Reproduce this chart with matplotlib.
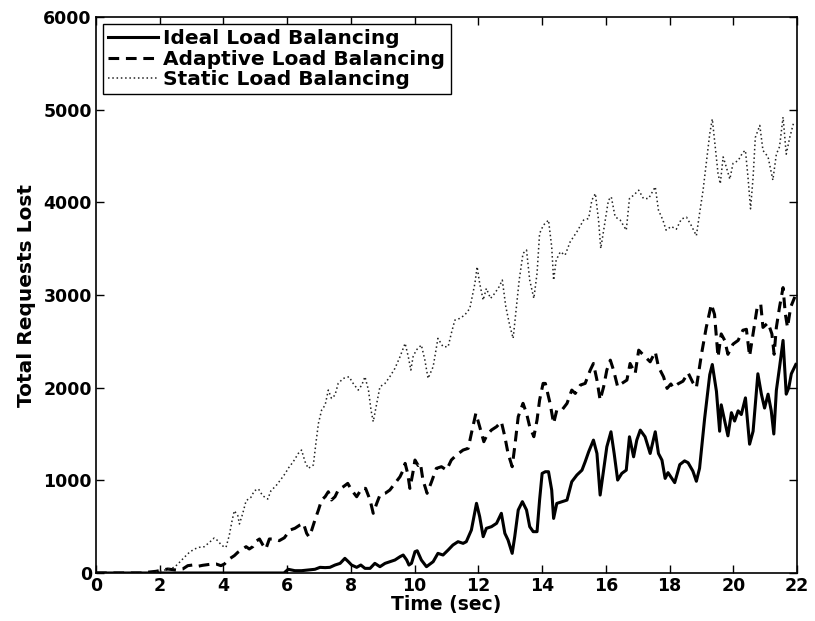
import matplotlib
matplotlib.use("Agg")
import matplotlib.pyplot as plt

# Ideal load balancing (solid)
ideal_t = [0, 5.9, 6.03, 6.24, 6.45, 6.66, 6.87, 7.03, 7.19, 7.34, 7.5, 7.66, 7.81, 7.92, 8.02,
           8.18, 8.31, 8.44, 8.6, 8.75, 8.91, 9.07, 9.22, 9.38, 9.54, 9.64, 9.75, 9.82, 9.9, 10.01,
           10.08, 10.21, 10.37, 10.58, 10.73, 10.89, 11.05, 11.2, 11.36, 11.52, 11.62, 11.78, 11.94,
           12.04, 12.15, 12.25, 12.41, 12.57, 12.72, 12.83, 12.93, 13.06, 13.14, 13.25, 13.38, 13.51,
           13.61, 13.72, 13.84, 13.92, 14.0, 14.1, 14.2, 14.3, 14.36, 14.46, 14.62, 14.78, 14.93,
           15.09, 15.25, 15.35, 15.46, 15.61, 15.72, 15.82, 15.93, 16.03, 16.16, 16.26, 16.37, 16.5,
           16.64, 16.74, 16.87, 16.97, 17.08, 17.23, 17.39, 17.55, 17.65, 17.76, 17.86, 17.95, 18.16,
           18.32, 18.47, 18.58, 18.73, 18.84, 18.94, 19.1, 19.26, 19.34, 19.47, 19.57, 19.62, 19.73,
           19.83, 19.94, 20.04, 20.15, 20.25, 20.38, 20.51, 20.62, 20.77, 20.88, 20.98, 21.09, 21.19,
           21.27, 21.35, 21.45, 21.56, 21.66, 21.74, 21.82, 21.96]
ideal_v = [0, 0, 40, 25, 25, 32, 40, 61, 58, 61, 86, 104, 158, 122, 86,
           61, 86, 50, 50, 104, 68, 104, 122, 140, 176, 194, 140, 86, 104, 230,
           240, 140, 68, 122, 212, 194, 248, 302, 338, 320, 338, 464, 752,
           608, 392, 482, 500, 536, 644, 428, 356, 212, 392, 680, 770, 680,
           500, 446, 446, 788, 1075, 1093, 1093, 895, 589, 751, 769, 787, 985,
           1057, 1110, 1200, 1308, 1434, 1290, 841, 1110, 1362, 1524, 1290, 1003, 1075,
           1110, 1470, 1254, 1434, 1542, 1470, 1290, 1524, 1290, 1218, 1021, 1083, 975,
           1170, 1210, 1190, 1100, 990, 1130, 1670, 2140, 2250, 1960, 1530, 1815, 1640,
           1480, 1730, 1640, 1750, 1710, 1890, 1390, 1530, 2150, 1930, 1780, 1930, 1750,
           1500, 1970, 2220, 2510, 1930, 2000, 2150, 2250]

# Adaptive load balancing (dashed)
adaptive_t = [0, 1.5, 1.57, 1.88, 2.09, 2.25, 2.51, 2.72, 2.88, 3.03, 3.19, 3.35, 3.56, 3.77, 3.92,
              4.03, 4.18, 4.34, 4.45, 4.6, 4.71, 4.81, 4.92, 5.02, 5.13, 5.23, 5.33, 5.44, 5.6, 5.75,
              5.91, 6.09, 6.24, 6.4, 6.51, 6.61, 6.68, 6.77, 6.87, 6.98, 7.08, 7.19, 7.29, 7.39, 7.5,
              7.6, 7.76, 7.9, 8.02, 8.18, 8.34, 8.46, 8.6, 8.7, 8.81, 8.91, 9.07, 9.22, 9.38, 9.54,
              9.64, 9.7, 9.78, 9.85, 9.94, 10.01, 10.11, 10.18, 10.26, 10.39, 10.53, 10.68, 10.84,
              11.0, 11.15, 11.31, 11.52, 11.68, 11.78, 11.92, 12.04, 12.17, 12.27, 12.41, 12.57,
              12.72, 12.83, 12.93, 13.06, 13.14, 13.25, 13.4, 13.51, 13.61, 13.74, 13.84, 13.92,
              14.03, 14.1, 14.25, 14.36, 14.46, 14.62, 14.78, 14.93, 15.04, 15.2, 15.35, 15.51,
              15.61, 15.72, 15.82, 15.93, 16.03, 16.14, 16.24, 16.37, 16.5, 16.66, 16.76, 16.92,
              17.03, 17.18, 17.39, 17.55, 17.65, 17.81, 17.92, 18.04, 18.11, 18.26, 18.42, 18.58,
              18.73, 18.84, 19.0, 19.15, 19.31, 19.41, 19.52, 19.62, 19.73, 19.83, 19.99, 20.15,
              20.3, 20.41, 20.51, 20.62, 20.75, 20.86, 20.93, 21.09, 21.21, 21.28, 21.35, 21.45,
              21.56, 21.63, 21.7, 21.8, 21.93]
adaptive_v = [0, 0, 7, 18, 32, 43, 32, 43, 79, 86, 72, 83, 93, 97, 79,
              97, 151, 187, 223, 259, 284, 259, 284, 342, 367, 306, 259, 367, 367, 349,
              380, 464, 482, 518, 536, 428, 392, 464, 572, 680, 788, 823, 877, 788, 823,
              895, 931, 967, 895, 823, 913, 913, 788, 644, 752, 841, 859, 895, 967, 1039,
              1111, 1183, 1075, 913, 1075, 1219, 1160, 1183, 1003, 860, 985, 1129, 1147,
              1111, 1219, 1273, 1327, 1345, 1507, 1723, 1579, 1417, 1489, 1543, 1579,
              1633, 1471, 1291, 1147, 1363, 1687, 1831, 1723, 1579, 1471, 1651, 1866,
              2046, 2046, 1830, 1614, 1758, 1758, 1830, 1974, 1938, 2028, 2046, 2190,
              2261, 2082, 1866, 2010, 2190, 2297, 2190, 2010, 2046, 2082, 2261, 2153,
              2405, 2351, 2279, 2387, 2225, 2117, 1992, 2040, 2000, 2040, 2070, 2160,
              2055, 2000, 2360, 2650, 2900, 2790, 2330, 2580, 2510, 2360, 2470, 2510,
              2620, 2630, 2340, 2580, 2870, 2900, 2650, 2700, 2580, 2360, 2650, 2870,
              3080, 2800, 2650, 2870, 2980]

# Static load balancing (dotted)
static_t = [0, 1.8, 2.09, 2.25, 2.46, 2.62, 2.77, 2.93, 3.09, 3.24, 3.4, 3.56, 3.71, 3.82, 3.95,
            4.08, 4.18, 4.27, 4.34, 4.45, 4.5, 4.6, 4.71, 4.86, 4.97, 5.1, 5.23, 5.39, 5.49, 5.65,
            5.81, 5.95, 6.03, 6.19, 6.35, 6.45, 6.56, 6.66, 6.82, 6.9, 6.98, 7.08, 7.19, 7.29, 7.39,
            7.5, 7.6, 7.76, 7.94, 8.07, 8.23, 8.34, 8.44, 8.55, 8.63, 8.7, 8.81, 8.91, 9.07, 9.22,
            9.38, 9.54, 9.7, 9.8, 9.88, 9.95, 10.05, 10.21, 10.32, 10.42, 10.58, 10.73, 10.89,
            11.05, 11.15, 11.26, 11.41, 11.57, 11.73, 11.89, 11.96, 12.04, 12.15, 12.25, 12.38,
            12.51, 12.65, 12.75, 12.86, 12.98, 13.09, 13.17, 13.28, 13.4, 13.51, 13.61, 13.74,
            13.84, 13.92, 14.04, 14.2, 14.3, 14.36, 14.44, 14.57, 14.72, 14.88, 15.09, 15.3,
            15.46, 15.56, 15.67, 15.77, 15.84, 15.98, 16.08, 16.17, 16.29, 16.45, 16.64, 16.74,
            16.87, 17.03, 17.18, 17.34, 17.55, 17.65, 17.79, 17.89, 18.05, 18.21, 18.37, 18.53,
            18.68, 18.84, 18.94, 19.05, 19.15, 19.26, 19.34, 19.41, 19.52, 19.59, 19.68, 19.78,
            19.89, 19.99, 20.15, 20.3, 20.38, 20.46, 20.54, 20.62, 20.69, 20.83, 20.93, 21.09,
            21.24, 21.35, 21.45, 21.56, 21.66, 21.77, 21.9]
static_v = [0, 0, 25, 43, 61, 115, 169, 223, 259, 277, 284, 331, 378, 349, 295,
            277, 403, 565, 672, 619, 529, 637, 780, 816, 888, 906, 834, 798, 888, 942,
            1014, 1080, 1129, 1201, 1291, 1327, 1201, 1129, 1165, 1399, 1615, 1758, 1812, 1974, 1884,
            1920, 2046, 2100, 2118, 2046, 1974, 2028, 2118, 1974, 1758, 1633, 1830, 2010, 2046, 2118,
            2208, 2334, 2478, 2334, 2190, 2334, 2406, 2460, 2298, 2100, 2226, 2532, 2442,
            2442, 2586, 2729, 2747, 2783, 2855, 3125, 3305, 3125, 2945, 3071, 2963,
            3017, 3089, 3161, 2873, 2676, 2532, 2801, 3161, 3449, 3485, 3161, 2963,
            3233, 3664, 3754, 3808, 3520, 3160, 3376, 3466, 3430, 3574, 3682, 3808,
            3826, 4023, 4095, 3808, 3502, 3808, 4023, 4059, 3844, 3808, 3700, 4041,
            4077, 4131, 4041, 4041, 4167, 3916, 3808, 3700, 3740, 3710, 3820, 3840,
            3750, 3640, 3880, 4130, 4420, 4740, 4900, 4670, 4310, 4200, 4490, 4380,
            4250, 4420, 4450, 4540, 4560, 4270, 3930, 4270, 4700, 4830, 4560, 4490,
            4240, 4520, 4600, 4920, 4520, 4700, 4870]

x_ticks = list(range(0, 23, 2))
y_ticks = list(range(0, 6001, 1000))

plt.rcParams["font.family"] = ["DejaVu Sans"]
plt.rcParams["font.weight"] = "bold"

fig = plt.figure(figsize=(8.15, 6.21), dpi=100)
ax = fig.add_axes([0.1178, 0.0773, 0.8602, 0.8953])

ax.plot(ideal_t, ideal_v, color="black", linewidth=2.2, linestyle="-",
        label="Ideal Load Balancing")
ax.plot(adaptive_t, adaptive_v, color="black", linewidth=2.2, linestyle=(0, (3.5, 2.2)),
        label="Adaptive Load Balancing")
ax.plot(static_t, static_v, color="#222222", linewidth=1.1, linestyle=(0, (1, 1.8)),
        label="Static Load Balancing")

ax.set_xlim(0, 22)
ax.set_ylim(0, 6000)
ax.set_xticks(x_ticks)
ax.set_yticks(y_ticks)
ax.tick_params(direction="in", top=True, right=True, length=6, width=1,
               labelsize=12.5, pad=3)
for lbl in ax.get_xticklabels() + ax.get_yticklabels():
    lbl.set_fontweight("bold")
for sp in ax.spines.values():
    sp.set_linewidth(1.2)

ax.set_xlabel("Time (sec)", fontsize=13.5, fontweight="bold", labelpad=0)
ax.set_ylabel("Total Requests Lost", fontsize=14.5, fontweight="bold", labelpad=5)

leg = ax.legend(loc="upper left", fontsize=14.5, frameon=True, fancybox=False,
                edgecolor="black", framealpha=1, borderaxespad=0.35,
                handlelength=2.5, handletextpad=0.25, borderpad=0.25,
                labelspacing=0.08)
leg.get_frame().set_linewidth(1.0)
for t in leg.get_texts():
    t.set_fontweight("bold")

fig.savefig("out.png", dpi=100)
